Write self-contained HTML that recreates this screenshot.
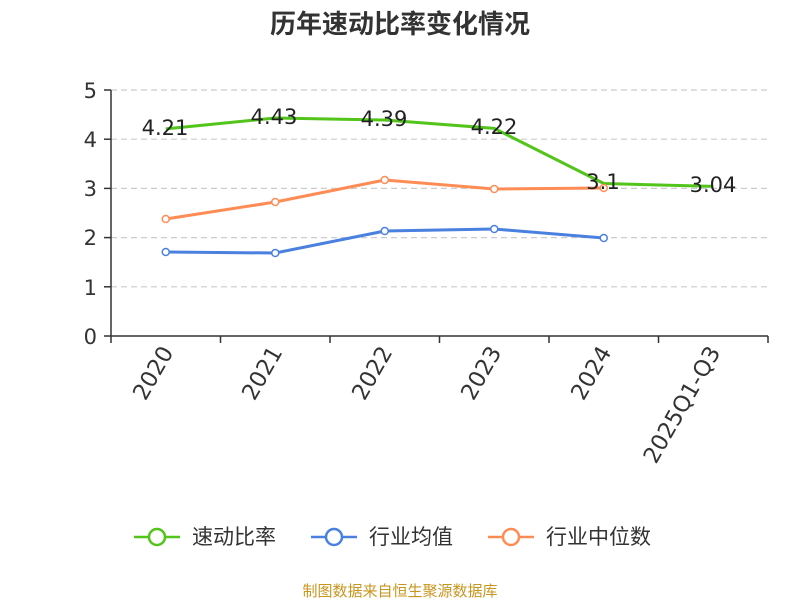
<!DOCTYPE html>
<html><head><meta charset="utf-8"><style>body{margin:0;background:#fff}svg{display:block}text{font-family:"DejaVu Sans","Noto Sans CJK SC",sans-serif}</style></head><body>
<svg width="800" height="600" xmlns="http://www.w3.org/2000/svg">
<text x="400" y="33" text-anchor="middle" font-size="26" font-weight="bold" fill="#333" style="font-family:'Noto Sans CJK SC',sans-serif">历年速动比率变化情况</text>
<g stroke="#ccc" stroke-dasharray="6,4" stroke-width="1.2">
<line x1="111" x2="768" y1="90" y2="90"/><line x1="111" x2="768" y1="139.2" y2="139.2"/><line x1="111" x2="768" y1="188.4" y2="188.4"/><line x1="111" x2="768" y1="237.6" y2="237.6"/><line x1="111" x2="768" y1="286.8" y2="286.8"/></g>
<line x1="111" x2="111" y1="90" y2="336" stroke="#333" stroke-width="1.5"/>
<line x1="111" x2="768" y1="336" y2="336" stroke="#333" stroke-width="1.5"/>
<g stroke="#333" stroke-width="1.5">
<line x1="104" x2="111" y1="90" y2="90"/><line x1="104" x2="111" y1="139.2" y2="139.2"/><line x1="104" x2="111" y1="188.4" y2="188.4"/><line x1="104" x2="111" y1="237.6" y2="237.6"/><line x1="104" x2="111" y1="286.8" y2="286.8"/><line x1="104" x2="111" y1="336" y2="336"/>
<line x1="111" x2="111" y1="336" y2="343"/><line x1="220.5" x2="220.5" y1="336" y2="343"/><line x1="330" x2="330" y1="336" y2="343"/><line x1="439.5" x2="439.5" y1="336" y2="343"/><line x1="549" x2="549" y1="336" y2="343"/><line x1="658.5" x2="658.5" y1="336" y2="343"/><line x1="768" x2="768" y1="336" y2="343"/></g>
<g font-size="21" fill="#333" text-anchor="end">
<text x="97" y="98">5</text><text x="97" y="147">4</text><text x="97" y="196">3</text><text x="97" y="245">2</text><text x="97" y="295">1</text><text x="97" y="344">0</text></g>
<g font-size="22.5" fill="#333" text-anchor="end">
<text transform="translate(174,352) rotate(-60)">2020</text>
<text transform="translate(283,352) rotate(-60)">2021</text>
<text transform="translate(393,352) rotate(-60)">2022</text>
<text transform="translate(502,352) rotate(-60)">2023</text>
<text transform="translate(612,352) rotate(-60)">2024</text>
<text transform="translate(721,352) rotate(-60)">2025Q1-Q3</text>
</g>
<polyline fill="none" stroke="#52c41a" stroke-width="3" points="165.75,128.9 275.25,118 384.75,120 494.25,128.4 603.75,183.5 713.25,186.4"/>
<polyline fill="none" stroke="#4a80e0" stroke-width="3" points="165.75,252 275.25,253 384.75,231 494.25,229 603.75,238"/>
<polyline fill="none" stroke="#ff8c55" stroke-width="3" points="165.75,219 275.25,202 384.75,180 494.25,189 603.75,188"/>
<g fill="#fff" stroke-width="1.5">
<g stroke="#4a80e0"><circle cx="165.75" cy="252" r="3.5"/><circle cx="275.25" cy="253" r="3.5"/><circle cx="384.75" cy="231" r="3.5"/><circle cx="494.25" cy="229" r="3.5"/><circle cx="603.75" cy="238" r="3.5"/></g>
<g stroke="#ff8c55"><circle cx="165.75" cy="219" r="3.5"/><circle cx="275.25" cy="202" r="3.5"/><circle cx="384.75" cy="180" r="3.5"/><circle cx="494.25" cy="189" r="3.5"/><circle cx="603.75" cy="188" r="3.5"/></g>
</g>
<g font-size="21" fill="#222" text-anchor="middle">
<text x="165" y="135">4.21</text><text x="274" y="124">4.43</text><text x="384" y="126">4.39</text><text x="494" y="134">4.22</text><text x="603" y="189">3.1</text><text x="713" y="192">3.04</text></g>
<g stroke-width="2.5" fill="#fff">
<line x1="134" x2="180" y1="537" y2="537" stroke="#52c41a"/><circle cx="157" cy="537" r="8" stroke="#52c41a"/>
<line x1="311" x2="357" y1="537" y2="537" stroke="#4a80e0"/><circle cx="334" cy="537" r="8" stroke="#4a80e0"/>
<line x1="488" x2="534" y1="537" y2="537" stroke="#ff8c55"/><circle cx="511" cy="537" r="8" stroke="#ff8c55"/></g>
<g font-size="21" fill="#333"><text x="192" y="544">速动比率</text><text x="369" y="544">行业均值</text><text x="546" y="544">行业中位数</text></g>
<text x="400" y="596" text-anchor="middle" font-size="15" fill="#c8961e">制图数据来自恒生聚源数据库</text>
</svg></body></html>
